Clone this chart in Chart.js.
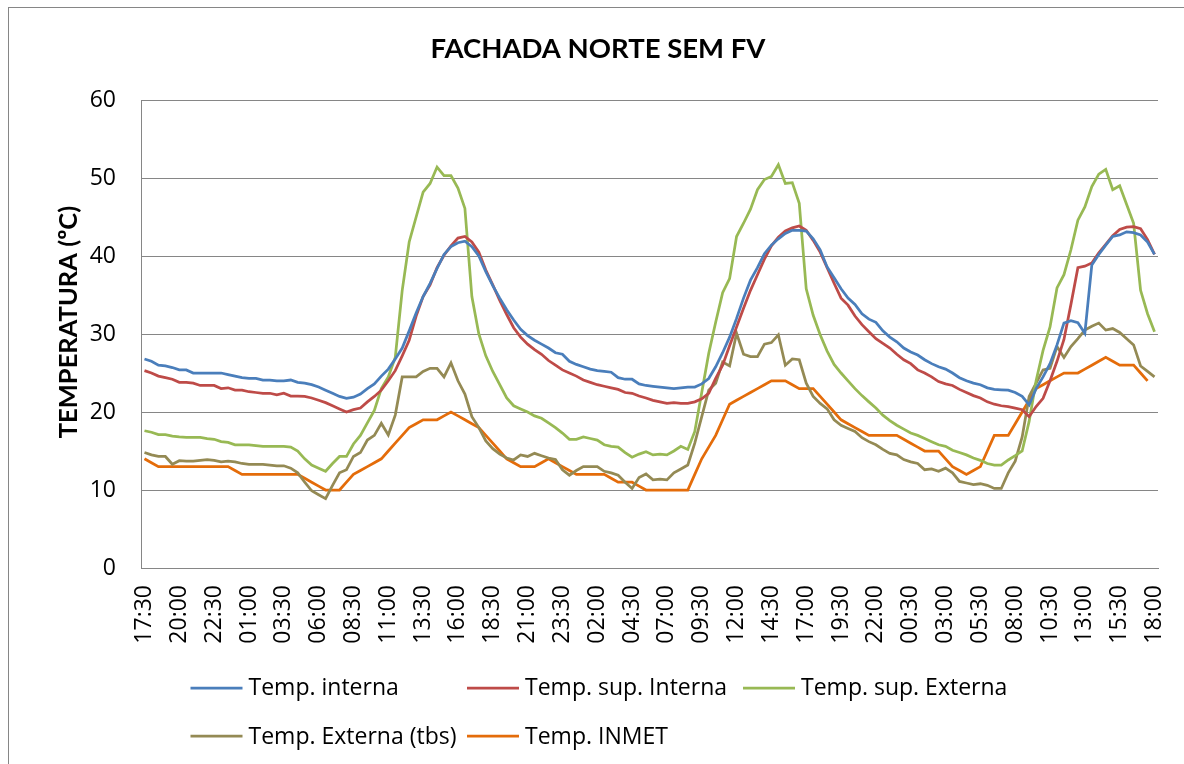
<!DOCTYPE html>
<html>
<head>
<meta charset="utf-8">
<script src="https://cdn.jsdelivr.net/npm/chart.js@4.4.0/dist/chart.umd.min.js"></script>
<style>
html,body{margin:0;padding:0;background:#fff;}
#wrap{width:1184px;height:764px;position:relative;overflow:hidden;}
canvas{display:block;}
</style>
</head>
<body>
<div id="wrap"><canvas id="c" width="1184" height="764"></canvas></div>
<script>
const chartTitle = 'FACHADA NORTE SEM FV';
const yAxisTitle = 'TEMPERATURA (ºC)';

const categories = [
'17:30','18:00','18:30','19:00','19:30','20:00','20:30','21:00','21:30','22:00','22:30','23:00','23:30',
'00:00','00:30','01:00','01:30','02:00','02:30','03:00','03:30','04:00','04:30','05:00','05:30','06:00','06:30','07:00','07:30','08:00','08:30','09:00','09:30','10:00','10:30','11:00','11:30','12:00','12:30','13:00','13:30','14:00','14:30','15:00','15:30','16:00','16:30','17:00','17:30','18:00','18:30','19:00','19:30','20:00','20:30','21:00','21:30','22:00','22:30','23:00','23:30',
'00:00','00:30','01:00','01:30','02:00','02:30','03:00','03:30','04:00','04:30','05:00','05:30','06:00','06:30','07:00','07:30','08:00','08:30','09:00','09:30','10:00','10:30','11:00','11:30','12:00','12:30','13:00','13:30','14:00','14:30','15:00','15:30','16:00','16:30','17:00','17:30','18:00','18:30','19:00','19:30','20:00','20:30','21:00','21:30','22:00','22:30','23:00','23:30',
'00:00','00:30','01:00','01:30','02:00','02:30','03:00','03:30','04:00','04:30','05:00','05:30','06:00','06:30','07:00','07:30','08:00','08:30','09:00','09:30','10:00','10:30','11:00','11:30','12:00','12:30','13:00','13:30','14:00','14:30','15:00','15:30','16:00','16:30','17:00','17:30','18:00'
];

const tickLabels = ['17:30','20:00','22:30','01:00','03:30','06:00','08:30','11:00','13:30','16:00','18:30','21:00','23:30','02:00','04:30','07:00','09:30','12:00','14:30','17:00','19:30','22:00','00:30','03:00','05:30','08:00','10:30','13:00','15:30','18:00'];

const tempInterna = [
26.8,26.5,26.0,25.9,25.7,25.4,25.4,25.0,25.0,25.0,25.0,25.0,24.8,24.6,24.4,24.3,24.3,24.1,24.1,24.0,
24.0,24.1,23.8,23.7,23.5,23.2,22.8,22.4,22.0,21.75,21.9,22.3,23.0,23.6,24.6,25.5,26.8,28.2,30.4,32.7,
34.8,36.5,38.4,40.2,41.2,41.7,41.9,41.2,40.0,38.0,36.2,34.6,33.1,31.8,30.6,29.8,29.2,28.7,28.2,27.6,
27.4,26.5,26.1,25.8,25.5,25.3,25.2,25.1,24.4,24.2,24.2,23.6,23.4,23.3,23.2,23.1,23.0,23.1,23.2,23.2,
23.6,24.3,25.8,27.6,29.6,32.0,34.6,36.9,38.5,40.3,41.4,42.2,42.9,43.3,43.3,43.2,42.2,40.8,38.6,37.2,
35.8,34.6,33.8,32.6,31.9,31.5,30.4,29.6,29.0,28.2,27.7,27.3,26.7,26.2,25.8,25.5,25.0,24.4,24.0,23.7,
23.5,23.1,22.9,22.85,22.8,22.5,22.0,20.9,23.0,24.5,26.2,28.6,31.4,31.7,31.45,30.1,38.85,40.2,41.4,42.5,
42.7,43.1,43.0,42.7,41.8,40.2
];

const tempSupInterna = [
25.3,25.0,24.6,24.4,24.2,23.8,23.8,23.7,23.4,23.4,23.4,23.0,23.1,22.8,22.8,22.6,22.5,22.4,22.4,22.2,
22.4,22.05,22.05,22.0,21.8,21.5,21.2,20.8,20.4,20.0,20.3,20.5,21.3,22.0,22.8,24.0,25.3,27.2,29.2,32.3,
34.8,36.3,38.5,40.1,41.3,42.3,42.5,41.8,40.5,38.2,36.3,34.3,32.5,30.8,29.6,28.7,28.0,27.4,26.6,26.0,
25.4,25.0,24.6,24.1,23.8,23.5,23.3,23.1,22.9,22.5,22.4,22.05,21.8,21.5,21.3,21.1,21.2,21.1,21.1,21.3,
21.7,22.4,24.3,26.0,28.5,30.9,33.3,35.6,37.6,39.6,41.3,42.4,43.2,43.6,43.85,43.3,42.0,40.5,38.5,36.5,
34.6,33.7,32.3,31.2,30.3,29.4,28.8,28.2,27.4,26.7,26.2,25.4,25.0,24.5,23.9,23.6,23.4,22.9,22.5,22.1,
21.8,21.3,21.0,20.8,20.7,20.5,20.3,19.4,20.7,21.75,24.0,26.5,29.3,33.8,38.5,38.7,39.1,40.4,41.5,42.6,
43.4,43.7,43.75,43.5,42.1,40.2
];

const tempSupExterna = [
17.6,17.4,17.1,17.1,16.9,16.8,16.75,16.75,16.75,16.6,16.5,16.2,16.1,15.8,15.8,15.8,15.7,15.6,15.6,15.6,
15.6,15.5,15.0,14.0,13.2,12.8,12.4,13.4,14.3,14.3,15.9,17.0,18.6,20.2,23.0,24.5,27.0,35.6,41.8,45.0,
48.2,49.3,51.4,50.3,50.3,48.7,46.1,34.8,30.0,27.2,25.2,23.5,21.8,20.8,20.4,20.0,19.5,19.2,18.6,18.0,
17.3,16.5,16.5,16.8,16.6,16.4,15.8,15.6,15.5,14.8,14.2,14.6,14.9,14.5,14.6,14.5,15.0,15.6,15.2,17.5,
22.5,27.5,31.5,35.3,37.1,42.5,44.2,46.0,48.5,49.8,50.2,51.7,49.3,49.4,46.75,35.8,32.4,29.9,27.8,26.1,
25.0,24.0,23.0,22.1,21.3,20.5,19.6,18.9,18.3,17.8,17.3,17.0,16.6,16.2,15.8,15.6,15.1,14.8,14.5,14.1,
13.8,13.4,13.2,13.2,13.85,14.4,15.0,18.8,24.0,27.9,30.9,35.9,37.6,40.8,44.6,46.3,48.9,50.5,51.1,48.5,
49.0,46.6,44.2,35.6,32.6,30.3
];

const tempExternaTbs = [
14.8,14.5,14.3,14.3,13.3,13.75,13.7,13.7,13.8,13.9,13.8,13.6,13.7,13.6,13.4,13.3,13.3,13.3,13.2,13.1,
13.1,12.8,12.2,11.0,9.9,9.4,8.9,10.6,12.2,12.6,14.3,14.8,16.4,17.0,18.55,17.05,19.6,24.5,24.5,24.5,
25.2,25.6,25.6,24.5,26.3,24.0,22.3,19.4,18.0,16.3,15.3,14.6,14.1,13.85,14.5,14.3,14.7,14.4,14.1,13.9,
12.6,11.9,12.5,13.0,13.0,13.0,12.4,12.2,11.9,11.0,10.2,11.6,12.05,11.3,11.4,11.3,12.2,12.7,13.2,16.0,
19.4,22.8,23.7,26.4,25.9,30.1,27.4,27.1,27.1,28.7,28.9,29.9,26.0,26.8,26.7,23.7,22.0,21.1,20.4,19.0,
18.3,17.9,17.5,16.7,16.2,15.8,15.2,14.7,14.5,13.9,13.6,13.4,12.6,12.7,12.4,12.8,12.2,11.1,10.9,10.7,
10.8,10.6,10.2,10.2,12.2,13.7,16.8,22.0,23.7,25.4,25.6,28.4,27.0,28.4,29.4,30.5,31.0,31.4,30.5,30.7,
30.2,29.4,28.6,25.9,25.2,24.5
];

const tempInmet = [
14,13.5,13,13,13,13,13,13,13,13,13,13,13,12.5,12,12,12,12,12,12,
12,12,12,11.5,11,10.5,10,10,10,11,12,12.5,13,13.5,14,15,16,17,18,18.5,
19,19,19,19.5,20,19.5,19,18.5,18,17,16,15,14,13.5,13,13,13,13.5,14,13.5,
13,12.5,12,12,12,12,12,11.5,11,11,11,10.5,10,10,10,10,10,10,10,12,
14,15.5,17,19,21,21.5,22,22.5,23,23.5,24,24,24,23.5,23,23,23,22,21,20,
19,18.5,18,17.5,17,17,17,17,17,16.5,16,15.5,15,15,15,14,13,12.5,12,12.5,
13,15,17,17,17,18.5,20,21.5,23,23.5,24,24.5,25,25,25,25.5,26,26.5,27,26.5,
26,26,26,25,24,null
];

const seriesNames = ['Temp. interna','Temp. sup. Interna','Temp. sup. Externa','Temp. Externa (tbs)','Temp. INMET'];
const seriesColors = ['#4A7EBB','#BE4B48','#98B954','#948A54','#E46C0A'];
const seriesData = [tempInterna, tempSupInterna, tempSupExterna, tempExternaTbs, tempInmet];

const FONT = '"Open Sans", Lato, sans-serif';
const TITLE_FONT = 'Lato, "Open Sans", sans-serif';

const decorPlugin = {
  id: 'decor',
  beforeDraw(chart) {
    const ctx = chart.ctx;
    ctx.save();
    ctx.fillStyle = '#fff';
    ctx.fillRect(0, 0, chart.width, chart.height);
    ctx.strokeStyle = '#868686';
    ctx.lineWidth = 1;
    ctx.strokeRect(8.5, 7.5, 1200, 800);
    ctx.restore();
  },
  afterDraw(chart) {
    const ctx = chart.ctx;
    ctx.save();
    // Title
    ctx.fillStyle = '#000';
    ctx.font = 'bold 27.5px ' + TITLE_FONT;
    ctx.textAlign = 'center';
    ctx.textBaseline = 'alphabetic';
    ctx.fillText(chartTitle, 598, 58);
    // Y axis title
    ctx.save();
    ctx.translate(77, 322);
    ctx.rotate(-Math.PI / 2);
    ctx.font = 'bold 25.5px ' + TITLE_FONT;
    ctx.textAlign = 'center';
    ctx.fillText(yAxisTitle, 0, 0);
    ctx.restore();
    // Legend (Excel style grid)
    const cols = [190.5, 467, 743];
    const rows = [[688, 695], [736, 744]];
    ctx.font = '23px ' + FONT;
    ctx.textAlign = 'left';
    chart.data.datasets.forEach((ds, i) => {
      const c = i % 3, r = Math.floor(i / 3);
      const x = cols[c], ly = rows[r][0], ty = rows[r][1];
      ctx.strokeStyle = ds.borderColor;
      ctx.lineWidth = 2.75;
      ctx.beginPath();
      ctx.moveTo(x, ly);
      ctx.lineTo(x + 52, ly);
      ctx.stroke();
      ctx.fillStyle = '#000';
      ctx.fillText(ds.label, x + 58, ty);
    });
    ctx.restore();
  }
};

new Chart(document.getElementById('c'), {
  type: 'line',
  data: {
    labels: categories,
    datasets: seriesData.map((d, i) => ({
      label: seriesNames[i],
      data: d,
      borderColor: seriesColors[i],
      backgroundColor: seriesColors[i],
      borderWidth: 2.75,
      pointRadius: 0,
      pointHoverRadius: 0,
      tension: 0,
      fill: false,
      spanGaps: false
    }))
  },
  options: {
    responsive: false,
    animation: false,
    devicePixelRatio: 1,
    layout: { padding: { left: 20, right: 26, top: 100, bottom: 106 } },
    plugins: {
      legend: { display: false },
      title: { display: false },
      tooltip: { enabled: false }
    },
    scales: {
      x: {
        type: 'category',
        offset: true,
        grid: { display: false, drawTicks: false },
        border: { display: true, color: '#868686', width: 1 },
        ticks: {
          autoSkip: false,
          minRotation: 90,
          maxRotation: 90,
          padding: 17,
          color: '#000',
          font: { family: FONT, size: 23 },
          callback: function (value, index) {
            return index % 5 === 0 ? tickLabels[index / 5] : '';
          }
        },
        afterFit(scale) { scale.height = 90; scale.paddingLeft = 0; scale.paddingRight = 0; }
      },
      y: {
        min: 0,
        max: 60,
        ticks: {
          stepSize: 10,
          padding: 25,
          color: '#000',
          font: { family: FONT, size: 23 }
        },
        grid: { color: '#868686', lineWidth: 1, drawTicks: false },
        border: { display: true, color: '#868686', width: 1 },
        afterFit(scale) { scale.width = 121; scale.paddingTop = 0; scale.paddingBottom = 0; }
      }
    }
  },
  plugins: [decorPlugin]
});
</script>
</body>
</html>
